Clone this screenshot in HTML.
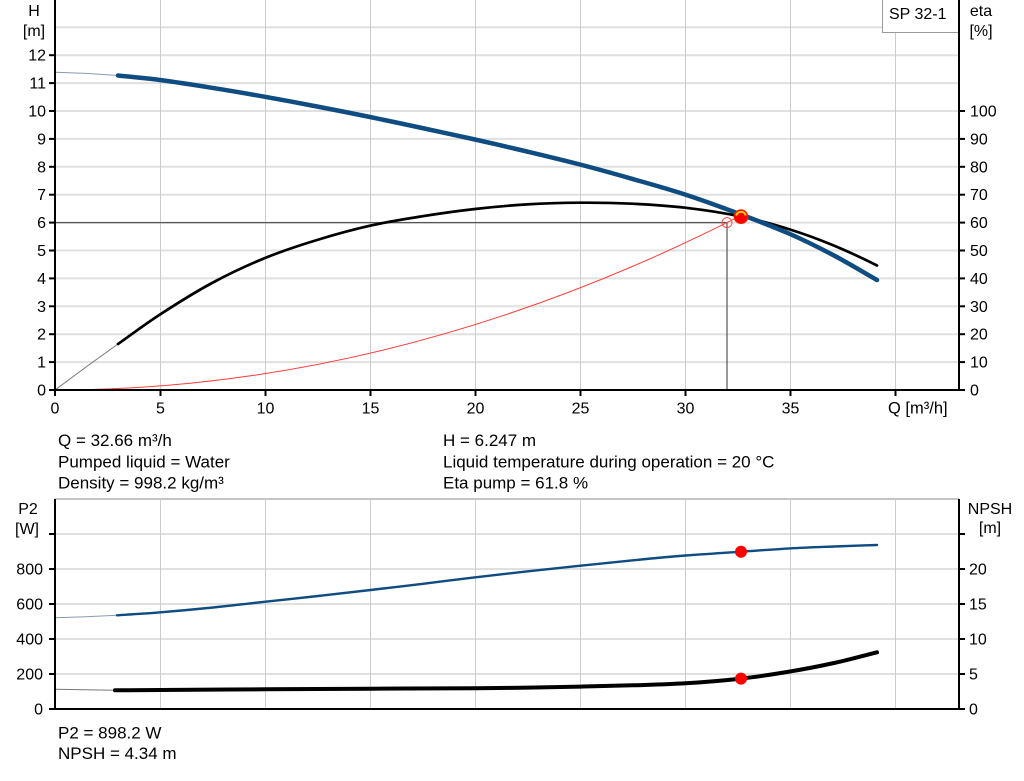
<!DOCTYPE html>
<html>
<head>
<meta charset="utf-8">
<style>
html,body{margin:0;padding:0;background:#fff;overflow:hidden;}
svg{display:block;}
text{font-family:"Liberation Sans",Arial,sans-serif;fill:#000;}
.t{font-size:16px;}
.b{font-size:17px;}
</style>
</head>
<body>
<svg width="1024" height="781" viewBox="0 0 1024 781" xmlns="http://www.w3.org/2000/svg">
<rect x="0" y="0" width="1024" height="781" fill="#fff"/>

<!-- ===== TOP CHART GRID ===== -->
<g stroke="#e0e0e0" stroke-width="2">
  <line x1="55" y1="362.1" x2="959" y2="362.1"/>
  <line x1="55" y1="334.2" x2="959" y2="334.2"/>
  <line x1="55" y1="306.3" x2="959" y2="306.3"/>
  <line x1="55" y1="278.4" x2="959" y2="278.4"/>
  <line x1="55" y1="250.5" x2="959" y2="250.5"/>
  <line x1="55" y1="222.6" x2="959" y2="222.6"/>
  <line x1="55" y1="194.7" x2="959" y2="194.7"/>
  <line x1="55" y1="166.8" x2="959" y2="166.8"/>
  <line x1="55" y1="138.9" x2="959" y2="138.9"/>
  <line x1="55" y1="111" x2="959" y2="111"/>
  <line x1="55" y1="83.1" x2="959" y2="83.1"/>
  <line x1="55" y1="55.2" x2="959" y2="55.2"/>
  <line x1="55" y1="27.3" x2="959" y2="27.3"/>
</g>
<g stroke="#cccccc" stroke-width="1">
  <line x1="160.5" y1="0" x2="160.5" y2="390"/>
  <line x1="265.5" y1="0" x2="265.5" y2="390"/>
  <line x1="370.5" y1="0" x2="370.5" y2="390"/>
  <line x1="475.5" y1="0" x2="475.5" y2="390"/>
  <line x1="580.5" y1="0" x2="580.5" y2="390"/>
  <line x1="685.5" y1="0" x2="685.5" y2="390"/>
  <line x1="790.5" y1="0" x2="790.5" y2="390"/>
  <line x1="895.5" y1="0" x2="895.5" y2="390"/>
</g>

<!-- legend box -->
<rect x="882.5" y="-1" width="76" height="33.5" fill="#fff" stroke="#999" stroke-width="1"/>
<text x="889" y="19" class="t">SP 32-1</text>

<!-- operating reference lines -->
<g stroke="#555" stroke-width="1.2" fill="none">
  <line x1="55" y1="222.6" x2="727" y2="222.6"/>
  <line x1="727" y1="222.6" x2="727" y2="390"/>
</g>

<!-- system curve (red) -->
<path d="M55,390 Q398,390 741,215.6" fill="none" stroke="#ff3b3b" stroke-width="1"/>
<circle cx="727" cy="222.6" r="5" fill="none" stroke="#ff4a4a" stroke-width="1"/>

<!-- eta curve -->
<polyline points="55,390 86,367 118,344" fill="none" stroke="#777" stroke-width="1"/>
<path d="M118,344 C132,334.17 144.33,324.67 160,314.5 C175.67,304.33 194.5,292.42 212,283 C229.5,273.58 247.5,265.17 265,258 C282.5,250.83 299.5,245.38 317,240 C334.5,234.62 352.5,229.65 370,225.7 C387.5,221.75 404.5,219.08 422,216.3 C439.5,213.52 457.5,210.98 475,209 C492.5,207.02 509.5,205.45 527,204.4 C544.5,203.35 562.5,202.82 580,202.7 C597.5,202.58 614.5,202.87 632,203.7 C649.5,204.53 666.83,205.57 685,207.7 C703.17,209.83 723.5,212.87 741,216.5 C758.5,220.13 774.5,224.65 790,229.5 C805.5,234.35 819.5,239.6 834,245.6 C848.5,251.6 862.67,258.3 877,265.5" fill="none" stroke="#000" stroke-width="2.7" stroke-linecap="round"/>

<!-- H curve -->
<polyline points="55,72.3 86,73.4 118,75.5" fill="none" stroke="#8a9bb0" stroke-width="1"/>
<path d="M118,75.5 C132,77 144.33,77.95 160,80 C175.67,82.05 194.5,85 212,87.8 C229.5,90.6 247.5,93.68 265,96.8 C282.5,99.92 299.5,103.13 317,106.5 C334.5,109.87 352.5,113.42 370,117 C387.5,120.58 404.5,124.25 422,128 C439.5,131.75 457.5,135.58 475,139.5 C492.5,143.42 509.5,147.33 527,151.5 C544.5,155.67 562.5,159.95 580,164.5 C597.5,169.05 614.5,173.8 632,178.8 C649.5,183.8 666.83,188.55 685,194.5 C703.17,200.45 723.5,207.92 741,214.5 C758.5,221.08 774.5,227.17 790,234 C805.5,240.83 819.5,247.83 834,255.5 C848.5,263.17 862.67,271.83 877,280" fill="none" stroke="#0f4c81" stroke-width="4.5" stroke-linecap="round"/>

<!-- operating point dot -->
<g transform="translate(741,216.7)">
  <circle r="7" fill="#ff0000" stroke="#ee3300" stroke-width="0.8"/>
  <path d="M-4.8,-1.2 A5,5 0 0 1 4.8,-1.2" fill="none" stroke="#ffd400" stroke-width="2"/>
</g>

<!-- axes top -->
<g stroke="#000" stroke-width="2">
  <line x1="55" y1="0" x2="55" y2="391"/>
  <line x1="959" y1="0" x2="959" y2="391"/>
  <line x1="54" y1="390" x2="960" y2="390"/>
</g>
<g stroke="#000" stroke-width="2">
  <line x1="49" y1="390" x2="55" y2="390"/>
  <line x1="49" y1="362.1" x2="55" y2="362.1"/>
  <line x1="49" y1="334.2" x2="55" y2="334.2"/>
  <line x1="49" y1="306.3" x2="55" y2="306.3"/>
  <line x1="49" y1="278.4" x2="55" y2="278.4"/>
  <line x1="49" y1="250.5" x2="55" y2="250.5"/>
  <line x1="49" y1="222.6" x2="55" y2="222.6"/>
  <line x1="49" y1="194.7" x2="55" y2="194.7"/>
  <line x1="49" y1="166.8" x2="55" y2="166.8"/>
  <line x1="49" y1="138.9" x2="55" y2="138.9"/>
  <line x1="49" y1="111" x2="55" y2="111"/>
  <line x1="49" y1="83.1" x2="55" y2="83.1"/>
  <line x1="49" y1="55.2" x2="55" y2="55.2"/>
  <line x1="959" y1="390" x2="965" y2="390"/>
  <line x1="959" y1="362.1" x2="965" y2="362.1"/>
  <line x1="959" y1="334.2" x2="965" y2="334.2"/>
  <line x1="959" y1="306.3" x2="965" y2="306.3"/>
  <line x1="959" y1="278.4" x2="965" y2="278.4"/>
  <line x1="959" y1="250.5" x2="965" y2="250.5"/>
  <line x1="959" y1="222.6" x2="965" y2="222.6"/>
  <line x1="959" y1="194.7" x2="965" y2="194.7"/>
  <line x1="959" y1="166.8" x2="965" y2="166.8"/>
  <line x1="959" y1="138.9" x2="965" y2="138.9"/>
  <line x1="959" y1="111" x2="965" y2="111"/>
  <line x1="55" y1="390" x2="55" y2="396"/>
  <line x1="160.5" y1="390" x2="160.5" y2="396"/>
  <line x1="265.5" y1="390" x2="265.5" y2="396"/>
  <line x1="370.5" y1="390" x2="370.5" y2="396"/>
  <line x1="475.5" y1="390" x2="475.5" y2="396"/>
  <line x1="580.5" y1="390" x2="580.5" y2="396"/>
  <line x1="685.5" y1="390" x2="685.5" y2="396"/>
  <line x1="790.5" y1="390" x2="790.5" y2="396"/>
  <line x1="895.5" y1="390" x2="895.5" y2="396"/>
</g>

<!-- top axis labels -->
<text x="34" y="16" class="t" text-anchor="middle">H</text>
<text x="34" y="36" class="t" text-anchor="middle">[m]</text>
<text x="981" y="16" class="t" text-anchor="middle">eta</text>
<text x="981" y="36" class="t" text-anchor="middle">[%]</text>

<g class="t" text-anchor="end">
  <text x="46" y="395.5">0</text>
  <text x="46" y="367.6">1</text>
  <text x="46" y="339.7">2</text>
  <text x="46" y="311.8">3</text>
  <text x="46" y="283.9">4</text>
  <text x="46" y="256">5</text>
  <text x="46" y="228.1">6</text>
  <text x="46" y="200.2">7</text>
  <text x="46" y="172.3">8</text>
  <text x="46" y="144.4">9</text>
  <text x="46" y="116.5">10</text>
  <text x="46" y="88.6">11</text>
  <text x="46" y="60.7">12</text>
</g>
<g class="t">
  <text x="970" y="395.5">0</text>
  <text x="970" y="367.6">10</text>
  <text x="970" y="339.7">20</text>
  <text x="970" y="311.8">30</text>
  <text x="970" y="283.9">40</text>
  <text x="970" y="256">50</text>
  <text x="970" y="228.1">60</text>
  <text x="970" y="200.2">70</text>
  <text x="970" y="172.3">80</text>
  <text x="970" y="144.4">90</text>
  <text x="970" y="116.5">100</text>
</g>
<g class="t" text-anchor="middle">
  <text x="55" y="413.5">0</text>
  <text x="160.5" y="413.5">5</text>
  <text x="265.5" y="413.5">10</text>
  <text x="370.5" y="413.5">15</text>
  <text x="475.5" y="413.5">20</text>
  <text x="580.5" y="413.5">25</text>
  <text x="685.5" y="413.5">30</text>
  <text x="790.5" y="413.5">35</text>
</g>
<text x="888" y="413.5" style="font-size:16.5px">Q [m³/h]</text>

<!-- info text -->
<g class="b">
  <text x="58" y="446">Q = 32.66 m³/h</text>
  <text x="58" y="467.5">Pumped liquid = Water</text>
  <text x="58" y="488.5">Density = 998.2 kg/m³</text>
  <text x="443" y="446">H = 6.247 m</text>
  <text x="443" y="467.5">Liquid temperature during operation = 20 °C</text>
  <text x="443" y="488.5">Eta pump = 61.8 %</text>
  <text x="58" y="738.5">P2 = 898.2 W</text>
  <text x="58" y="759">NPSH = 4.34 m</text>
</g>

<!-- ===== BOTTOM CHART ===== -->
<g stroke="#e0e0e0" stroke-width="2">
  <line x1="55" y1="674" x2="959" y2="674"/>
  <line x1="55" y1="639" x2="959" y2="639"/>
  <line x1="55" y1="604" x2="959" y2="604"/>
  <line x1="55" y1="569" x2="959" y2="569"/>
  <line x1="55" y1="534" x2="959" y2="534"/>
</g>
<line x1="55" y1="499" x2="959" y2="499" stroke="#c4c4c4" stroke-width="2"/>
<g stroke="#cccccc" stroke-width="1">
  <line x1="160.5" y1="499" x2="160.5" y2="709"/>
  <line x1="265.5" y1="499" x2="265.5" y2="709"/>
  <line x1="370.5" y1="499" x2="370.5" y2="709"/>
  <line x1="475.5" y1="499" x2="475.5" y2="709"/>
  <line x1="580.5" y1="499" x2="580.5" y2="709"/>
  <line x1="685.5" y1="499" x2="685.5" y2="709"/>
  <line x1="790.5" y1="499" x2="790.5" y2="709"/>
  <line x1="895.5" y1="499" x2="895.5" y2="709"/>
</g>

<!-- P2 curve -->
<polyline points="55,617.7 86,616.8 117,615.3" fill="none" stroke="#8a9bb0" stroke-width="1"/>
<path d="M117,615.3 C131.5,614.3 144.5,613.6 160.5,612.3 C176.5,611 195.5,609.27 213,607.5 C230.5,605.73 248,603.62 265.5,601.7 C283,599.78 300.5,597.95 318,596 C335.5,594.05 353,592.12 370.5,590 C388,587.88 405.5,585.92 423,583.8 C440.5,581.68 458,579.38 475.5,577.3 C493,575.22 510.5,573.23 528,571.3 C545.5,569.37 563,567.53 580.5,565.7 C598,563.87 615.5,562 633,560.3 C650.5,558.6 667.5,556.93 685.5,555.5 C703.5,554.07 723.58,552.88 741,551.7 C758.42,550.52 774.5,549.27 790,548.4 C805.5,547.53 819.5,547.07 834,546.5 C848.5,545.93 862.67,545.5 877,545" fill="none" stroke="#0f4c81" stroke-width="2.4" stroke-linecap="round"/>

<!-- NPSH curve -->
<polyline points="55,689.3 85,689.7 115,690.3" fill="none" stroke="#777" stroke-width="1"/>
<path d="M115,690.3 C130.17,690.2 135.42,690.17 160.5,690 C185.58,689.83 230.5,689.52 265.5,689.3 C300.5,689.08 335.5,688.88 370.5,688.7 C405.5,688.52 449.25,688.38 475.5,688.2 C501.75,688.02 510.5,687.87 528,687.6 C545.5,687.33 563,686.98 580.5,686.6 C598,686.22 615.5,685.85 633,685.3 C650.5,684.75 667.5,684.42 685.5,683.3 C703.5,682.18 723.58,680.57 741,678.6 C758.42,676.63 774.5,674.1 790,671.5 C805.5,668.9 819.5,666.2 834,663 C848.5,659.8 862.67,655.87 877,652.3" fill="none" stroke="#000" stroke-width="4" stroke-linecap="round"/>

<circle cx="741" cy="551.7" r="6" fill="#ff0000"/>
<circle cx="741" cy="678.6" r="6" fill="#ff0000"/>

<!-- bottom axes -->
<g stroke="#000" stroke-width="2">
  <line x1="55" y1="499" x2="55" y2="710"/>
  <line x1="959" y1="499" x2="959" y2="710"/>
  <line x1="54" y1="709" x2="960" y2="709"/>
  <line x1="49" y1="709" x2="55" y2="709"/>
  <line x1="49" y1="674" x2="55" y2="674"/>
  <line x1="49" y1="639" x2="55" y2="639"/>
  <line x1="49" y1="604" x2="55" y2="604"/>
  <line x1="49" y1="569" x2="55" y2="569"/>
  <line x1="49" y1="534" x2="55" y2="534"/>
  <line x1="959" y1="709" x2="965" y2="709"/>
  <line x1="959" y1="674" x2="965" y2="674"/>
  <line x1="959" y1="639" x2="965" y2="639"/>
  <line x1="959" y1="604" x2="965" y2="604"/>
  <line x1="959" y1="569" x2="965" y2="569"/>
  <line x1="959" y1="534" x2="965" y2="534"/>
</g>

<text x="28" y="514" class="t" text-anchor="middle">P2</text>
<text x="27" y="534" class="t" text-anchor="middle">[W]</text>
<text x="990" y="514" class="t" text-anchor="middle">NPSH</text>
<text x="990" y="533" class="t" text-anchor="middle">[m]</text>

<g class="t" text-anchor="end">
  <text x="43" y="714.5">0</text>
  <text x="43" y="679.5">200</text>
  <text x="43" y="644.5">400</text>
  <text x="43" y="609.5">600</text>
  <text x="43" y="574.5">800</text>
</g>
<g class="t">
  <text x="969" y="714.5">0</text>
  <text x="969" y="679.5">5</text>
  <text x="969" y="644.5">10</text>
  <text x="969" y="609.5">15</text>
  <text x="969" y="574.5">20</text>
</g>
</svg>
</body>
</html>
